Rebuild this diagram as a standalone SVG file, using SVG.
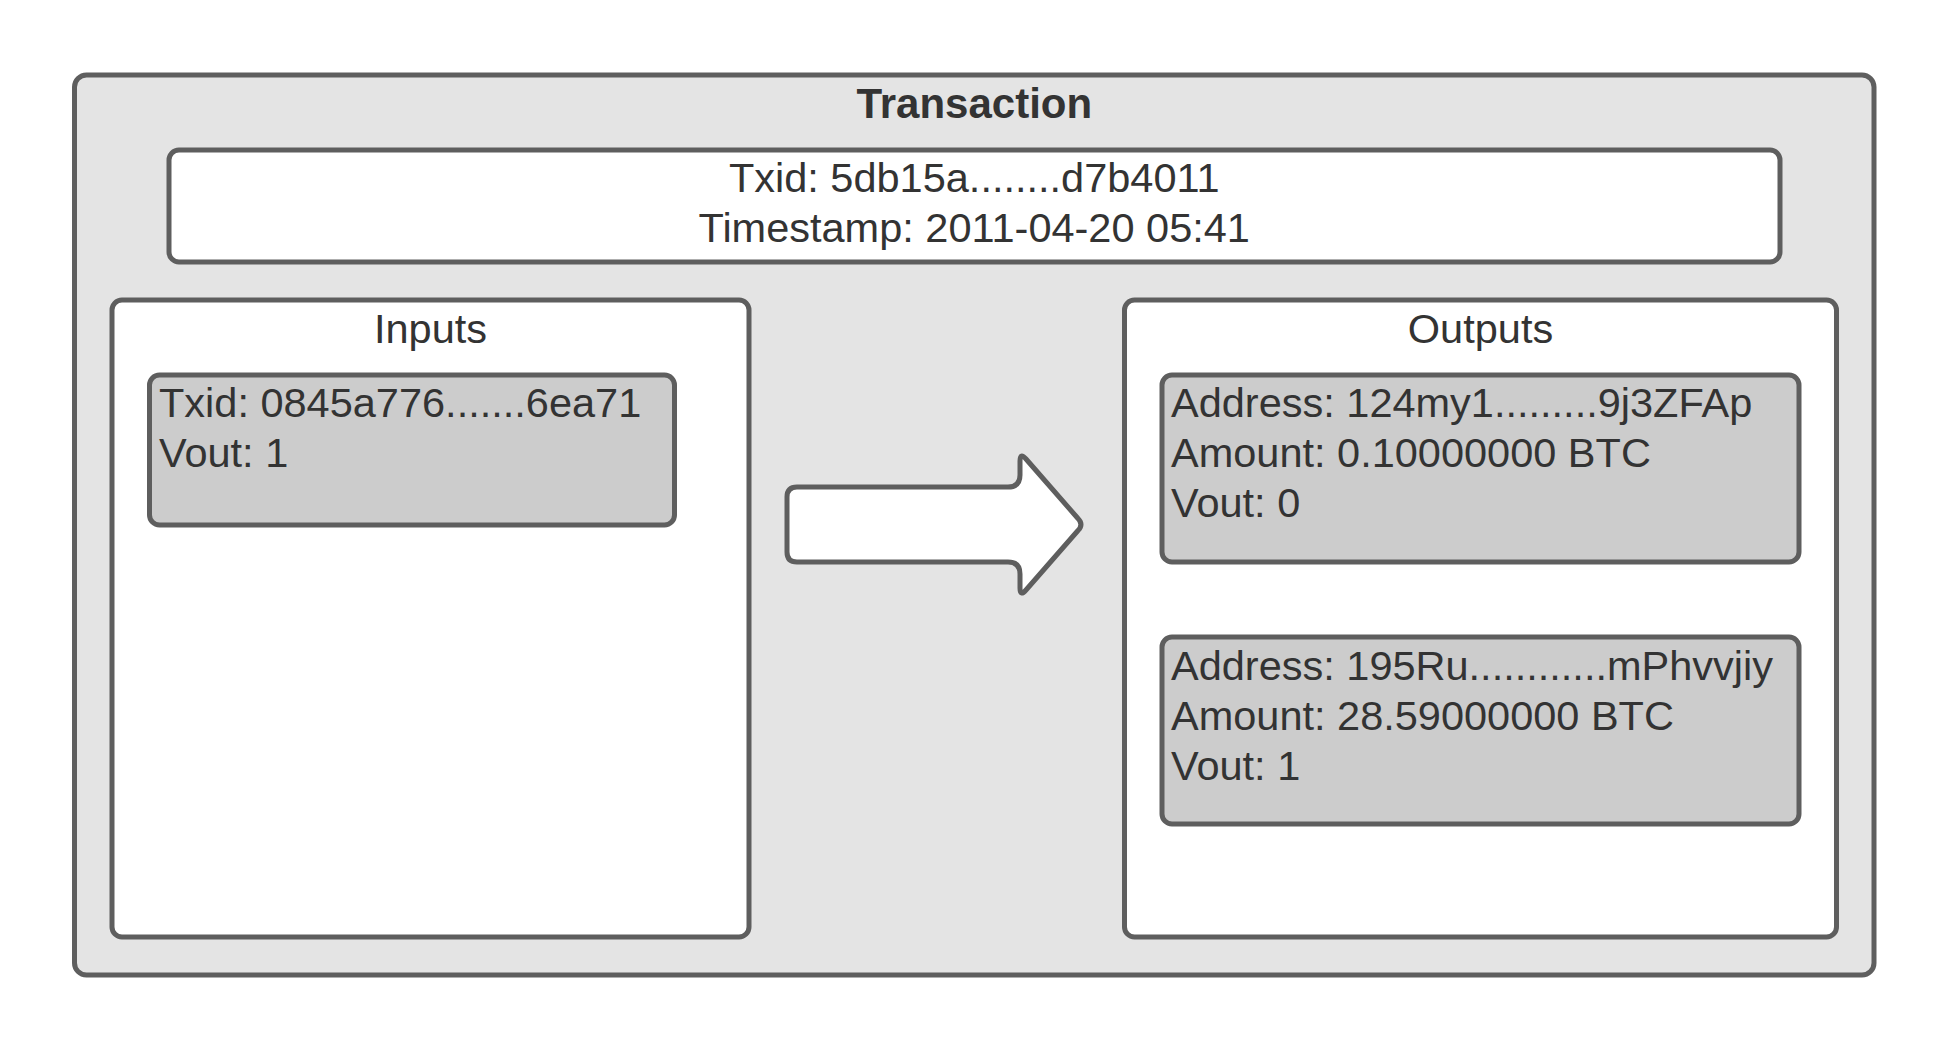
<svg xmlns="http://www.w3.org/2000/svg" width="1950" height="1050" viewBox="0 0 1950 1050">
  <style>
    .box { stroke: #5e5e5e; stroke-width: 5; }
    .outer { fill: #e4e4e4; }
    .white { fill: #ffffff; }
    .item { fill: #cccccc; }
    text { font-family: "Liberation Sans", Arial, sans-serif; fill: #333333; font-size: 41.5px; }
    .title { font-weight: bold; font-size: 42px; }
    .c { text-anchor: middle; }
  </style>
  <rect width="1950" height="1050" fill="#ffffff"/>
  <g id="transaction">
    <rect class="box outer" x="74.5" y="75" width="1799.5" height="900" rx="12" ry="12"/>
    <text class="title c" x="974.25" y="118">Transaction</text>
  </g>
  <g id="header">
    <rect class="box white" x="169" y="150" width="1611" height="112" rx="10" ry="10"/>
    <text class="c" x="974.25" y="192">Txid: 5db15a........d7b4011</text>
    <text class="c" x="974.25" y="242">Timestamp: 2011-04-20 05:41</text>
  </g>
  <g id="inputs">
    <rect class="box white" x="112" y="300" width="637" height="637" rx="10" ry="10"/>
    <text class="c" x="430.5" y="342.5">Inputs</text>
  </g>
  <g id="input-0">
    <rect class="box item" x="149.5" y="375" width="525" height="150" rx="10" ry="10"/>
    <text x="159" y="417">Txid: 0845a776.......6ea71</text>
    <text x="159" y="467">Vout: 1</text>
  </g>
  <g id="outputs">
    <rect class="box white" x="1124.5" y="300" width="712" height="637" rx="10" ry="10"/>
    <text class="c" x="1480.5" y="342.5">Outputs</text>
  </g>
  <g id="output-0">
    <rect class="box item" x="1162" y="375" width="637" height="187" rx="10" ry="10"/>
    <text x="1171" y="417">Address: 124my1.........9j3ZFAp</text>
    <text x="1171" y="467">Amount: 0.10000000 BTC</text>
    <text x="1171" y="517">Vout: 0</text>
  </g>
  <g id="output-1">
    <rect class="box item" x="1162" y="637" width="637" height="187" rx="10" ry="10"/>
    <text x="1171" y="680">Address: 195Ru............mPhvvjiy</text>
    <text x="1171" y="730">Amount: 28.59000000 BTC</text>
    <text x="1171" y="780">Vout: 1</text>
  </g>
  <g id="connectors">
    <path class="box white" stroke-linejoin="round" d="M 797 487 L 1008 487 Q 1020 487 1020 475 L 1020 461 Q 1020 452 1026 459 L 1078 518.5 Q 1084 524.5 1078 530.5 L 1026 590 Q 1020 597 1020 588 L 1020 574 Q 1020 562 1008 562 L 797 562 Q 787 562 787 552 L 787 497 Q 787 487 797 487 Z"/>
  </g>
</svg>
